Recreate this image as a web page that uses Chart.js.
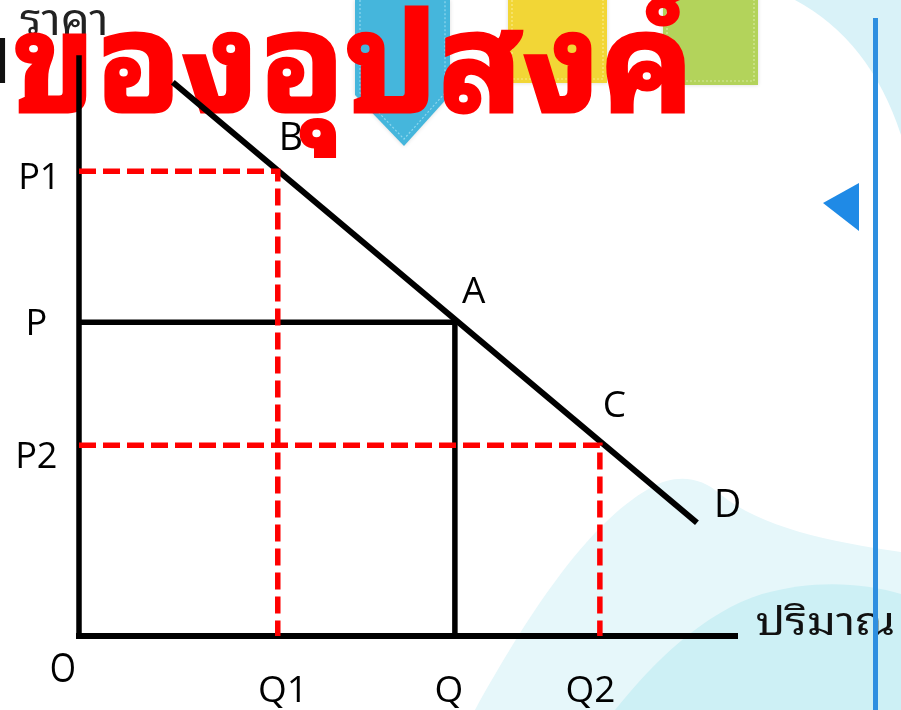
<!DOCTYPE html>
<html><head><meta charset="utf-8">
<script src="https://cdn.jsdelivr.net/npm/chart.js@4"></script>
<style>html,body{margin:0;padding:0;background:#fff;overflow:hidden}#wrap{width:901px;height:710px;position:relative}canvas{display:block}</style>
</head><body><div id="wrap"><canvas id="c" width="901" height="710"></canvas></div>
<script>
// ---- data ----
const demandQ = [14.3, 94.2];
const demandP = [95.8, 19.6];
const priceLabels = ['P1', 'P', 'P2'];
const priceValues = [80.4, 54.3, 33.0];
const qtyLabels = ['Q1', 'Q', 'Q2'];
const qtyValues = [30.3, 57.3, 79.4];
const pointLabels = ['B', 'A', 'C'];
const endLabel = 'D';
const originLabel = 'O';
const xTitle = 'ปริมาณ';
const yTitle = 'ราคา';
const titleText = 'ของอุปสงค์';

const LATIN = "'Open Sans','Noto Sans',sans-serif";
const THAI = "'Noto Sans Thai Looped','Noto Serif Thai','Noto Sans Thai','Noto Sans',sans-serif";

function pts(xs, ys) { return xs.map((x, i) => ({x, y: ys[i]})); }

function drawText(ctx, o) {
  ctx.save();
  ctx.font = `${o.weight || 'normal'} 100px ${o.family}`;
  const r = ctx.measureText(o.ref || o.text);
  const size = 100 * o.h / (r.actualBoundingBoxAscent || 70);
  ctx.font = `${o.weight || 'normal'} ${size}px ${o.family}`;
  ctx.textAlign = 'left';
  ctx.textBaseline = 'alphabetic';
  const m = ctx.measureText(o.text);
  const l = -m.actualBoundingBoxLeft, rr = m.actualBoundingBoxRight;
  const inkW = rr - l;
  const sx = o.w ? o.w / inkW : (o.sx || 1);
  let anchor = l;
  if (o.align === 'center') anchor = (l + rr) / 2;
  else if (o.align === 'right') anchor = rr;
  ctx.translate(o.x, o.y);
  ctx.scale(sx, 1);
  ctx.fillStyle = o.color || '#111';
  if (o.stroke) {
    ctx.strokeStyle = o.color;
    ctx.lineWidth = o.stroke;
    ctx.lineJoin = 'miter';
    ctx.strokeText(o.text, -anchor, 0);
  }
  ctx.fillText(o.text, -anchor, 0);
  ctx.restore();
}

const decor = {
  id: 'decor',
  beforeDraw(chart) {
    const ctx = chart.ctx;
    ctx.save();
    ctx.fillStyle = '#ffffff';
    ctx.fillRect(0, 0, chart.width, chart.height);
    // top-right pale corner
    ctx.fillStyle = '#d9f2f8';
    ctx.beginPath();
    ctx.moveTo(795, 0);
    ctx.quadraticCurveTo(870, 40, 901, 135);
    ctx.lineTo(901, 0);
    ctx.closePath();
    ctx.fill();
    // bottom-right waves
    ctx.fillStyle = '#e6f7fa';
    ctx.beginPath();
    ctx.moveTo(475, 710);
    ctx.bezierCurveTo(525, 620, 585, 525, 650, 488);
    ctx.bezierCurveTo(675, 474, 700, 476, 720, 494);
    ctx.bezierCurveTo(760, 527, 830, 542, 901, 552);
    ctx.lineTo(901, 710);
    ctx.closePath();
    ctx.fill();
    ctx.fillStyle = '#cdf0f5';
    ctx.beginPath();
    ctx.moveTo(615, 710);
    ctx.bezierCurveTo(655, 660, 705, 612, 762, 594);
    ctx.bezierCurveTo(812, 580, 860, 582, 901, 594);
    ctx.lineTo(901, 710);
    ctx.closePath();
    ctx.fill();
    // ribbon
    ctx.shadowColor = 'rgba(0,0,0,0.15)';
    ctx.shadowBlur = 4;
    ctx.fillStyle = '#45b6dc';
    ctx.beginPath();
    ctx.moveTo(355, 0); ctx.lineTo(450, 0); ctx.lineTo(450, 95); ctx.lineTo(404, 146); ctx.lineTo(355, 95);
    ctx.closePath(); ctx.fill();
    // yellow & green tabs
    ctx.fillStyle = '#f2d636';
    ctx.fillRect(508, -5, 99, 88);
    ctx.fillStyle = '#b3d35b';
    ctx.fillRect(663, -5, 95, 90);
    ctx.shadowBlur = 0; ctx.shadowColor = 'transparent';
    // stitched borders
    ctx.setLineDash([2, 2]);
    ctx.lineWidth = 1.2;
    ctx.strokeStyle = '#8fd7ee';
    ctx.beginPath();
    ctx.moveTo(360, 0); ctx.lineTo(360, 93); ctx.lineTo(404, 139); ctx.lineTo(445, 93); ctx.lineTo(445, 0);
    ctx.stroke();
    ctx.strokeStyle = '#f8e98a';
    ctx.strokeRect(512, -2, 91, 81);
    ctx.strokeStyle = '#d6ea9e';
    ctx.strokeRect(667, -2, 87, 83);
    ctx.setLineDash([]);
    // triangle
    ctx.fillStyle = '#1f8ae6';
    ctx.beginPath();
    ctx.moveTo(823, 203); ctx.lineTo(859, 183); ctx.lineTo(859, 231);
    ctx.closePath(); ctx.fill();
    ctx.restore();
  },
  beforeDatasetsDraw(chart) {
    const ctx = chart.ctx;
    drawText(ctx, {text: yTitle, family: THAI, ref: 'า', h: 25, x: 20, y: 35, align: 'left', w: 85, color: '#222'});
    drawText(ctx, {text: 'ม', family: THAI, ref: 'ม', h: 46, x: 6, y: 83, align: 'right', color: '#111'});
    drawText(ctx, {text: titleText, family: THAI, weight: 'bold', ref: 'อ', h: 78, x: 16, y: 112, align: 'left', w: 673, color: '#ff0000', stroke: 3});
  },
  afterDatasetsDraw(chart) {
    const ctx = chart.ctx;
    const xs = chart.scales.x, ys = chart.scales.y;
    const x0 = xs.getPixelForValue(0), y0 = ys.getPixelForValue(0);
    const pOff = [18, 13, 23];
    priceLabels.forEach((t, i) => {
      drawText(ctx, {text: t, family: LATIN, weight: '500', ref: 'P', h: 26, x: x0 - 42, y: ys.getPixelForValue(priceValues[i]) + pOff[i], align: 'center', color: '#000'});
    });
    const qOff = [2, -6, -9];
    qtyLabels.forEach((t, i) => {
      drawText(ctx, {text: t, family: LATIN, weight: '500', ref: 'Q', h: 27, x: xs.getPixelForValue(qtyValues[i]) + qOff[i], y: y0 + 66, align: 'center', color: '#000'});
    });
    drawText(ctx, {text: originLabel, family: LATIN, weight: '500', ref: 'O', h: 29, x: x0 - 16, y: y0 + 46, align: 'center', sx: 0.85, color: '#000'});
    const lblOff = [[4, -21], [7, -19], [5, -28]];
    pointLabels.forEach((t, i) => {
      const px = xs.getPixelForValue(qtyValues[i]);
      const py = ys.getPixelForValue(priceValues[i]);
      drawText(ctx, {text: t, family: LATIN, weight: '500', ref: t, h: 27, x: px + lblOff[i][0], y: py + lblOff[i][1], align: 'left', color: '#000'});
    });
    drawText(ctx, {text: endLabel, family: LATIN, weight: '500', ref: 'D', h: 27,
      x: xs.getPixelForValue(demandQ[1]) + 20, y: ys.getPixelForValue(demandP[1]) - 6, align: 'left', color: '#000'});
    drawText(ctx, {text: xTitle, family: THAI, ref: 'ร', h: 22, x: 757, y: 635, align: 'left', w: 136, color: '#111'});
  },
  afterDraw(chart) {
    const ctx = chart.ctx;
    ctx.save();
    ctx.strokeStyle = '#2e8fe0';
    ctx.lineWidth = 5;
    ctx.beginPath(); ctx.moveTo(875.5, 18); ctx.lineTo(875.5, 710); ctx.stroke();
    ctx.restore();
  }
};

const common = {showLine: true, pointRadius: 0, pointHoverRadius: 0, fill: false, clip: false, tension: 0};
new Chart(document.getElementById('c'), {
  type: 'scatter',
  data: {
    datasets: [
      {...common, label: 'P1-Q1', data: pts([0, qtyValues[0], qtyValues[0]], [priceValues[0], priceValues[0], 0]),
        borderColor: '#ff0000', borderWidth: 5.5, borderDash: [17, 7], order: 1},
      {...common, label: 'P2-Q2', data: pts([0, qtyValues[2], qtyValues[2]], [priceValues[2], priceValues[2], 0]),
        borderColor: '#ff0000', borderWidth: 5.5, borderDash: [17, 7], order: 2},
      {...common, label: 'Demand', data: pts(demandQ, demandP), borderColor: '#000', borderWidth: 6, order: 3},
      {...common, label: 'P-Q', data: pts([0, qtyValues[1], qtyValues[1]], [priceValues[1], priceValues[1], 0]),
        borderColor: '#000', borderWidth: 5.5, order: 4},
      {...common, label: 'x-axis', data: pts([0, 100], [0, 0]), borderColor: '#000', borderWidth: 6, borderCapStyle: 'square', order: 5},
      {...common, label: 'y-axis', data: pts([0, 0], [0, 100]), borderColor: '#000', borderWidth: 5.5, borderCapStyle: 'square', order: 6}
    ]
  },
  options: {
    responsive: false,
    animation: false,
    events: [],
    layout: {padding: {left: 79, right: 166, top: 58, bottom: 74}},
    scales: {
      x: {type: 'linear', min: 0, max: 100, display: false},
      y: {type: 'linear', min: 0, max: 100, display: false}
    },
    plugins: {legend: {display: false}, tooltip: {enabled: false}, title: {display: false}}
  },
  plugins: [decor]
});
</script>
</body></html>
